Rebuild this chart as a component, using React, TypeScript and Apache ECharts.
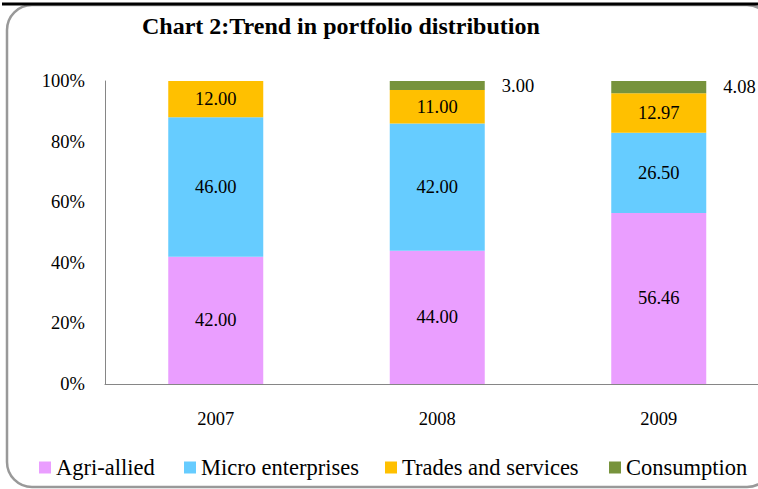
import React, { useEffect, useRef } from "react";
import * as echarts from "echarts";

const categories = ["2007", "2008", "2009"];
const seriesNames = ["Agri-allied", "Micro enterprises", "Trades and services", "Consumption"];
const agriAllied = [42.0, 44.0, 56.46];
const microEnterprises = [46.0, 42.0, 26.5];
const tradesServices = [12.0, 11.0, 12.97];
const consumption = [0, 3.0, 4.08];
const colors = ["#EA9EFF", "#66CCFF", "#FFC000", "#77933C"];
const legendLefts = [39, 184, 385, 609];

const FONT = "Liberation Serif";

export default function App() {
  const ref = useRef<HTMLDivElement>(null);
  useEffect(() => {
    if (!ref.current) return;
    const chart = echarts.init(ref.current, null, { renderer: "svg" });
    const values = [agriAllied, microEnterprises, tradesServices, consumption];
    const labelFmt = (p: any) => (p.value ? Number(p.value).toFixed(2) : "");
    const series = values.map((data, i) => ({
      name: seriesNames[i],
      type: "bar",
      stack: "total",
      data,
      barWidth: 95,
      itemStyle: { color: colors[i] },
      label: {
        show: true,
        position: i === 3 ? "right" : "inside",
        distance: i === 3 ? 17 : 5,
        formatter: labelFmt,
        color: "#000",
        fontFamily: FONT,
        fontSize: 18.5,
      },
    }));
    const legendText = { fontFamily: FONT, fontSize: 22.5, color: "#000", fontWeight: "normal" };
    chart.setOption({
      animation: false,
      textStyle: { fontFamily: FONT },
      title: {
        text: "Chart 2:Trend in portfolio distribution",
        left: 137,
        top: 9,
        textStyle: { fontFamily: FONT, fontSize: 24, fontWeight: "bold", color: "#000" },
      },
      legend: seriesNames.map((n, i) => ({
        data: [{ name: n, icon: "rect", textStyle: legendText }],
        left: legendLefts[i],
        top: 456,
        padding: 0,
        icon: "rect",
        itemWidth: 12,
        itemHeight: 12,
        textStyle: legendText,
      })),
      grid: { left: 105, width: 664.5, top: 81, height: 303, containLabel: false, outerBoundsMode: "none" },
      xAxis: {
        type: "category",
        data: categories,
        axisLine: { show: true, lineStyle: { color: "#868686", width: 1 } },
        axisTick: { show: false },
        axisLabel: { fontFamily: FONT, fontSize: 18.5, color: "#000", margin: 25 },
      },
      yAxis: {
        type: "value",
        min: 0,
        max: 100,
        interval: 20,
        axisLine: { show: true, lineStyle: { color: "#868686", width: 1 } },
        axisTick: { show: false },
        splitLine: { show: false },
        axisLabel: { formatter: "{value}%", fontFamily: FONT, fontSize: 18.5, color: "#000", margin: 20 },
      },
      graphic: [
        {
          type: "rect",
          shape: { x: 7, y: 5, width: 765, height: 482, r: 25 },
          style: { fill: "none", stroke: "#999999", lineWidth: 2.5 },
          silent: true,
        },
        {
          type: "line",
          shape: { x1: 2, y1: 4, x2: 758, y2: 4 },
          style: { stroke: "#000", lineWidth: 3 },
          silent: true,
        },
      ],
      series,
    });
    return () => chart.dispose();
  }, []);
  return (
    <div
      ref={ref}
      style={{ position: "fixed", left: 0, top: 0, width: 758, height: 489, background: "#fff" }}
    />
  );
}
